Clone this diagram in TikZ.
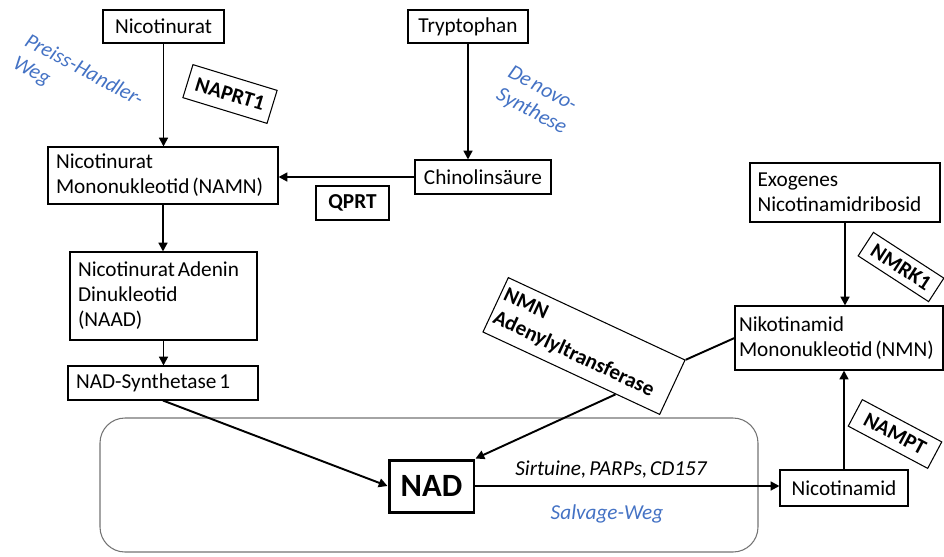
\documentclass[tikz,border=0pt]{standalone}
\usepackage{fontspec}
\setmainfont{Carlito}[WordSpace=0.6]
\usetikzlibrary{arrows.meta,calc}
\definecolor{wegblue}{HTML}{4472C4}
\newcommand{\boxfont}{\fontsize{12.1}{14.2}\selectfont}
\hyphenpenalty=10000

\begin{document}
\begin{tikzpicture}[x=0.02cm, y=-0.02cm,
    box/.style={draw, line width=0.6pt, font=\boxfont, inner sep=0pt},
    boxl/.style={box, align=flush left, inner xsep=0.16cm},
    enzyme/.style={draw, line width=0.6pt, font=\boxfont\bfseries, inner sep=0pt},
    weg/.style={text=wegblue, font=\boxfont\itshape, align=flush left},
    flow/.style={-{Triangle[length=5pt,width=5pt]}, line width=1.1pt}]
    \useasboundingbox (0,0) rectangle (944,556);

    % Salvage region
    \draw[black!55, line width=0.6pt, rounded corners=0.5cm] (100,418) rectangle (758,552);

    % Substrates and intermediates
    \node[box, minimum width=2.42cm, minimum height=0.66cm] (nicot) at (163.5,26.5) {Nicotinurat};
    \node[box, minimum width=2.4cm, minimum height=0.66cm] (trypto) at (468,26.5) {Tryptophan};
    \node[boxl, text width=4.28cm, minimum height=1.14cm] (namn) at (163,175.5) {Nicotinurat\\Mononukleotid (NAMN)};
    \node[box, minimum width=2.72cm, minimum height=0.68cm] (chinol) at (483,177) {Chinolinsäure};
    \node[boxl, text width=3.42cm, minimum height=1.76cm] (naad) at (163.5,296) {Nicotinurat Adenin\\Dinukleotid\\(NAAD)};
    \node[boxl, text width=3.48cm, minimum height=0.68cm] (nadsyn) at (163,383) {NAD-Synthetase 1};
    \node[boxl, text width=3.5cm, inner xsep=0.15cm, minimum height=1.18cm] (exo) at (845,192.5) {Exogenes\\Nicotinamidribosid};
    \node[boxl, text width=4.0cm, inner xsep=0.08cm, minimum height=1.28cm] (nmn) at (839,338) {Nikotinamid\\Mononukleotid (NMN)};
    \node[box, minimum width=2.56cm, minimum height=0.72cm] (nicam) at (844,488) {Nicotinamid};
    \node[draw, line width=1.7pt, font=\fontsize{18.5}{22}\selectfont\bfseries, minimum width=1.7cm, minimum height=1.04cm] (nad) at (431.5,486) {NAD};

    % Enzymes
    \node[enzyme, minimum width=1.46cm, minimum height=0.68cm] (qprt) at (352.5,203) {QPRT};
    \node[enzyme, rotate=-17, minimum width=1.76cm, minimum height=0.69cm] (naprt) at (230,94) {NAPRT1};
    \node[enzyme, rotate=-25, align=flush left, text width=3.74cm, inner xsep=0.08cm, minimum height=1.2cm] (adt) at (584,346) {NMN\\Adenylyltransferase};
    \node[enzyme, rotate=-33, minimum width=1.68cm, minimum height=0.56cm] (nmrk) at (901,267) {NMRK1};
    \node[enzyme, rotate=-28, minimum width=1.8cm, minimum height=0.6cm] (nampt) at (895,434) {NAMPT};

    % Pathway names
    \node[weg, rotate=-28] (preiss) at (78,82) {Preiss-Handler-\\Weg};
    \node[weg, rotate=-28] (denovo) at (537,101) {De novo-\\Synthese};
    \node[weg] (salvage) at (607,514) {Salvage-Weg};
    \node[font=\boxfont\itshape] (sirt) at (611,470) {Sirtuine, PARPs, CD157};

    % Reactions
    \draw[flow] (nicot.south) -- (nicot.south |- namn.north);
    \draw[flow] (trypto.south) -- (trypto.south |- chinol.north);
    \draw[flow] (chinol.west) -- (chinol.west -| namn.east);
    \draw[flow] (namn.south) -- (namn.south |- naad.north);
    \draw[flow] (naad.south) -- (naad.south |- nadsyn.north);
    \draw[flow] (nadsyn.south) -- (nad.west);
    \draw[line width=1.1pt] (nmn.west) -- (adt.north east);
    \draw[flow] ($(adt.south)!0.5!(adt.south east)$) -- (nad.north east);
    \draw[flow] (exo.south) -- (exo.south |- nmn.north);
    \draw[flow] (nicam.north) -- (nicam.north |- nmn.south);
    \draw[flow] (nad.east) -- (nad.east -| nicam.west);
\end{tikzpicture}
\end{document}
